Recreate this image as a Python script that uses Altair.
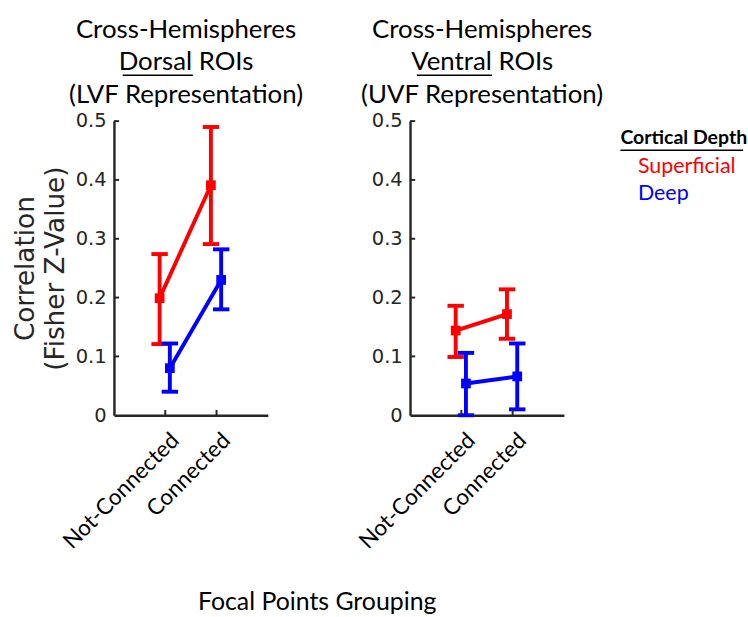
import altair as alt
import pandas as pd

# Conditions and groups
groups = ["Not-Connected", "Connected"]
depths = ["Superficial", "Deep"]
depth_colors = ["#FF0000", "#0000FF"]

# Dorsal ROIs (LVF representation): mean and error-bar limits
dorsal_sup_mean = [0.199, 0.391]
dorsal_sup_lo = [0.121, 0.291]
dorsal_sup_hi = [0.274, 0.490]
dorsal_deep_mean = [0.080, 0.230]
dorsal_deep_lo = [0.040, 0.180]
dorsal_deep_hi = [0.122, 0.282]

# Ventral ROIs (UVF representation): mean and error-bar limits
ventral_sup_mean = [0.144, 0.172]
ventral_sup_lo = [0.099, 0.130]
ventral_sup_hi = [0.186, 0.214]
ventral_deep_mean = [0.054, 0.066]
ventral_deep_lo = [0.000, 0.010]
ventral_deep_hi = [0.106, 0.122]

y_ticks = [0, 0.1, 0.2, 0.3, 0.4, 0.5]
x_ticks = [1, 2]

AXIS_COLOR = "#262626"
SANS = "Lato"
NUM_FONT = "DejaVu Sans"
W, H = 158, 302
TITLE_X = W / 2 - 5          # heading centre, px from plot left
TITLE_BASELINES = [-85, -52, -19]


def frame(sup_mean, sup_lo, sup_hi, deep_mean, deep_lo, deep_hi):
    rows = []
    for depth, m, lo, hi in [("Superficial", sup_mean, sup_lo, sup_hi),
                             ("Deep", deep_mean, deep_lo, deep_hi)]:
        for i, g in enumerate(groups):
            rows.append({"group": g, "gi": i + 1, "depth": depth,
                         "mean": m[i], "lo": lo[i], "hi": hi[i]})
    return pd.DataFrame(rows)


color = alt.Color("depth:N", scale=alt.Scale(domain=depths, range=depth_colors), legend=None)
one_row = pd.DataFrame({"k": [0]})


def underline_rule(x0, x1, y):
    # thin rule under a heading word
    return alt.Chart(one_row).mark_rule(color="black", strokeWidth=1.6).encode(
        x=alt.value(x0), x2=alt.value(x1), y=alt.value(y))


def heading(lines, ul):
    layers = []
    for text, yb in zip(lines, TITLE_BASELINES):
        layers.append(alt.Chart(one_row).mark_text(
            text=text, font=SANS, fontSize=26.5, color="black",
            align="center", baseline="alphabetic").encode(
            x=alt.value(TITLE_X), y=alt.value(yb)))
    layers.append(underline_rule(ul[0], ul[1], TITLE_BASELINES[1] + 5))
    return layers


def panel(df, title_lines, y_title, ul):
    x_scale = alt.Scale(domain=[0, 3], nice=False, zero=False)
    y_scale = alt.Scale(domain=[0, 0.5], nice=False)
    label_expr = "datum.value == 1 ? '%s' : '%s'" % (groups[0], groups[1])

    x_axis = alt.Axis(values=x_ticks, labelExpr=label_expr, labelAngle=-45,
                      labelAlign="right", labelBaseline="middle",
                      labelFont=SANS, labelFontSize=23, labelColor="black",
                      labelPadding=22, labelOffset=10, ticks=False,
                      domainColor=AXIS_COLOR, domainWidth=2.5, title=None, grid=False)
    y_axis = alt.Axis(values=y_ticks, labelExpr="format(datum.value, '.1~f')",
                      labelFont=NUM_FONT, labelFontSize=20, labelColor=AXIS_COLOR,
                      labelPadding=8, ticks=False, domainColor=AXIS_COLOR,
                      domainWidth=2.5, grid=False,
                      title=y_title, titleFont=NUM_FONT, titleFontSize=27,
                      titleFontWeight="normal", titleColor=AXIS_COLOR,
                      titleLineHeight=31, titlePadding=6)

    base = alt.Chart(df).transform_calculate(
        xpos="datum.gi + (datum.depth == 'Superficial' ? -0.11 : 0.09)"
    ).transform_calculate(
        cap_l="datum.xpos - 0.16", cap_r="datum.xpos + 0.16"
    )

    line = base.mark_line(strokeWidth=4).encode(
        x=alt.X("xpos:Q", scale=x_scale, axis=x_axis),
        y=alt.Y("mean:Q", scale=y_scale, axis=y_axis),
        color=color, detail="depth:N")
    bars = base.mark_rule(strokeWidth=4).encode(
        x="xpos:Q", y="lo:Q", y2="hi:Q", color=color)
    cap_lo = base.mark_rule(strokeWidth=4).encode(
        x="cap_l:Q", x2="cap_r:Q", y="lo:Q", color=color)
    cap_hi = base.mark_rule(strokeWidth=4).encode(
        x="cap_l:Q", x2="cap_r:Q", y="hi:Q", color=color)
    pts = base.mark_square(size=100, opacity=1).encode(
        x="xpos:Q", y="mean:Q", color=color)

    # inward tick marks on both axes
    ytk = alt.Chart(pd.DataFrame({"v": y_ticks[1:]})).transform_calculate(
        a="0", b="0.1").mark_rule(color=AXIS_COLOR, strokeWidth=2).encode(
        x="a:Q", x2="b:Q", y="v:Q")
    xtk = alt.Chart(pd.DataFrame({"v": x_ticks})).transform_calculate(
        a="0", b="0.009").mark_rule(color=AXIS_COLOR, strokeWidth=2).encode(
        x="v:Q", y="a:Q", y2="b:Q")

    return alt.layer(line, bars, cap_lo, cap_hi, pts, ytk, xtk,
                     *heading(title_lines, ul)).properties(width=W, height=H)


dorsal = frame(dorsal_sup_mean, dorsal_sup_lo, dorsal_sup_hi,
               dorsal_deep_mean, dorsal_deep_lo, dorsal_deep_hi)
ventral = frame(ventral_sup_mean, ventral_sup_lo, ventral_sup_hi,
                ventral_deep_mean, ventral_deep_lo, ventral_deep_hi)

left = panel(dorsal, ["Cross-Hemispheres", "Dorsal ROIs", "(LVF Representation)"],
             ["Correlation", "(Fisher Z-Value)"], (9, 81))
right = panel(ventral, ["Cross-Hemispheres", "Ventral ROIs", "(UVF Representation)"],
              None, (7, 84))

# Text legend: heading plus coloured depth names
legend_df = pd.DataFrame({"row": [0, 1, 2],
                          "label": ["Cortical Depth"] + depths,
                          "depth": [""] + depths})
leg_base = alt.Chart(legend_df)
leg_y = alt.Y("row:O", axis=None, scale=alt.Scale(paddingInner=0, paddingOuter=0))
leg_title = leg_base.transform_filter("datum.row == 0").mark_text(
    align="left", baseline="middle", font=SANS, fontSize=20, fontWeight="bold",
    color="black", dy=4).encode(x=alt.value(0), y=leg_y, text="label:N")
leg_items = leg_base.transform_filter("datum.row > 0").mark_text(
    align="left", baseline="middle", font=SANS, fontSize=22, dx=18, dy=4).encode(
    x=alt.value(0), y=leg_y, text="label:N", color=color)
legend = alt.layer(leg_title, leg_items, underline_rule(0, 126, 30)).properties(
    width=10, height=84)

panels = alt.hconcat(left, right, spacing=52)
chart = alt.hconcat(panels, legend, spacing=16).properties(
    title=alt.TitleParams("Focal Points Grouping", orient="bottom", anchor="middle",
                          font=SANS, fontSize=25.5, fontWeight="normal", color="black",
                          offset=38, dx=-64),
    background="white", padding={"left": 12, "top": 10, "right": 0, "bottom": 0},
).configure_view(stroke=None)

chart.save("out.html", embed_options={"renderer": "svg", "actions": False})
